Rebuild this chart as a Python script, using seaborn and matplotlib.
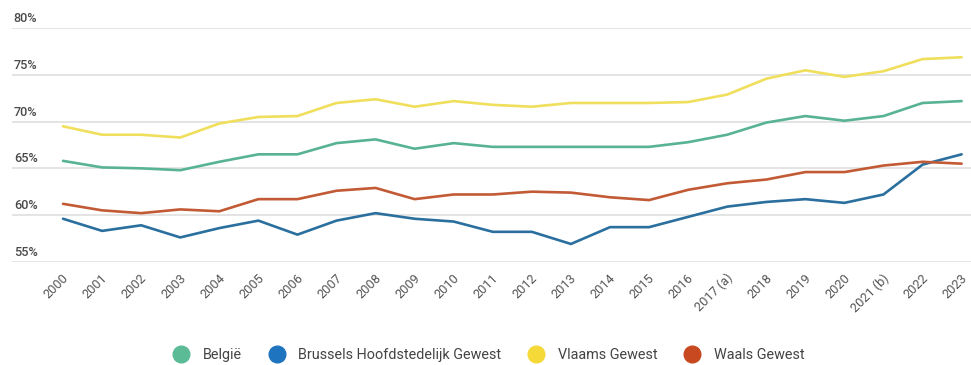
import matplotlib
matplotlib.use("Agg")
import matplotlib.pyplot as plt
import matplotlib.transforms as mtransforms
from matplotlib.lines import Line2D
import seaborn as sns
import pandas as pd

years = ["2000", "2001", "2002", "2003", "2004", "2005", "2006", "2007", "2008",
         "2009", "2010", "2011", "2012", "2013", "2014", "2015", "2016",
         "2017 (a)", "2018", "2019", "2020", "2021 (b)", "2022", "2023"]

belgie = [65.8, 65.1, 65.0, 64.8, 65.7, 66.5, 66.5, 67.7, 68.1, 67.1, 67.7, 67.3,
          67.3, 67.3, 67.3, 67.3, 67.8, 68.6, 69.9, 70.6, 70.1, 70.6, 72.0, 72.2]
brussel = [59.6, 58.3, 58.9, 57.6, 58.6, 59.4, 57.9, 59.4, 60.2, 59.6, 59.3, 58.2,
           58.2, 56.9, 58.7, 58.7, 59.8, 60.9, 61.4, 61.7, 61.3, 62.2, 65.4, 66.5]
vlaanderen = [69.5, 68.6, 68.6, 68.3, 69.8, 70.5, 70.6, 72.0, 72.4, 71.6, 72.2, 71.8,
              71.6, 72.0, 72.0, 72.0, 72.1, 72.9, 74.6, 75.5, 74.8, 75.4, 76.7, 76.9]
wallonie = [61.2, 60.5, 60.2, 60.6, 60.4, 61.7, 61.7, 62.6, 62.9, 61.7, 62.2, 62.2,
            62.5, 62.4, 61.9, 61.6, 62.7, 63.4, 63.8, 64.6, 64.6, 65.3, 65.7, 65.5]

series_names = ["België", "Brussels Hoofdstedelijk Gewest", "Vlaams Gewest", "Waals Gewest"]
series_values = [belgie, brussel, vlaanderen, wallonie]
colors = ["#58b393", "#2a6f9e", "#f0df5c", "#c25a36"]
legend_colors = ["#5bbb97", "#1f74c0", "#f5d938", "#c8491f"]

y_ticks = [55, 60, 65, 70, 75, 80]

rows = []
for name, vals in zip(series_names, series_values):
    for i, (yr, v) in enumerate(zip(years, vals)):
        rows.append({"idx": i, "jaar": yr, "reeks": name, "waarde": v})
df = pd.DataFrame(rows)

sns.set_theme(style="white")
plt.rcParams["font.family"] = ["Roboto", "DejaVu Sans"]

fig = plt.figure(figsize=(9.71, 3.65), dpi=100)
ax = fig.add_axes([0.0124, 0.283, 0.9876, 0.6395])

sns.lineplot(data=df, x="idx", y="waarde", hue="reeks", hue_order=series_names,
             palette=dict(zip(series_names, colors)), linewidth=1.9, ax=ax,
             legend=False, zorder=3)

ax.set_xlim(-1.305, 23.24)
ax.set_ylim(55, 80)
ax.set_yticks(y_ticks)
ax.set_yticklabels([])
ax.tick_params(axis="y", length=0)
ax.grid(axis="y", color="#dcdcdc", linewidth=1.1)
ax.grid(axis="x", visible=False)
for s in ax.spines.values():
    s.set_visible(False)
ax.set_xlabel("")
ax.set_ylabel("")

# y labels sit just above their grid lines at the left edge
for t in y_ticks:
    ax.text(-1.26, t + 0.32, f"{t}%", ha="left", va="bottom", fontsize=9.2,
            color="#4a4a4a", fontweight="medium")

ax.set_xticks(range(len(years)))
ax.set_xticklabels(years, rotation=45, ha="right", rotation_mode="anchor",
                   fontsize=9.2, color="#555555")
ax.tick_params(axis="x", length=0, pad=7)
offset = mtransforms.ScaledTranslation(-1 / 100, 0, fig.dpi_scale_trans)
for lbl in ax.get_xticklabels():
    lbl.set_transform(lbl.get_transform() + offset)

handles = [Line2D([0], [0], marker="o", linestyle="", markersize=12,
                  markerfacecolor=c, markeredgecolor=c) for c in legend_colors]
fig.legend(handles, series_names, loc="center", bbox_to_anchor=(0.5, 0.028),
           ncol=4, frameon=False, fontsize=10.4, handletextpad=0.5,
           columnspacing=1.4, labelcolor="#444444", borderpad=0.1)

fig.savefig("out.png", dpi=100, facecolor="white")
